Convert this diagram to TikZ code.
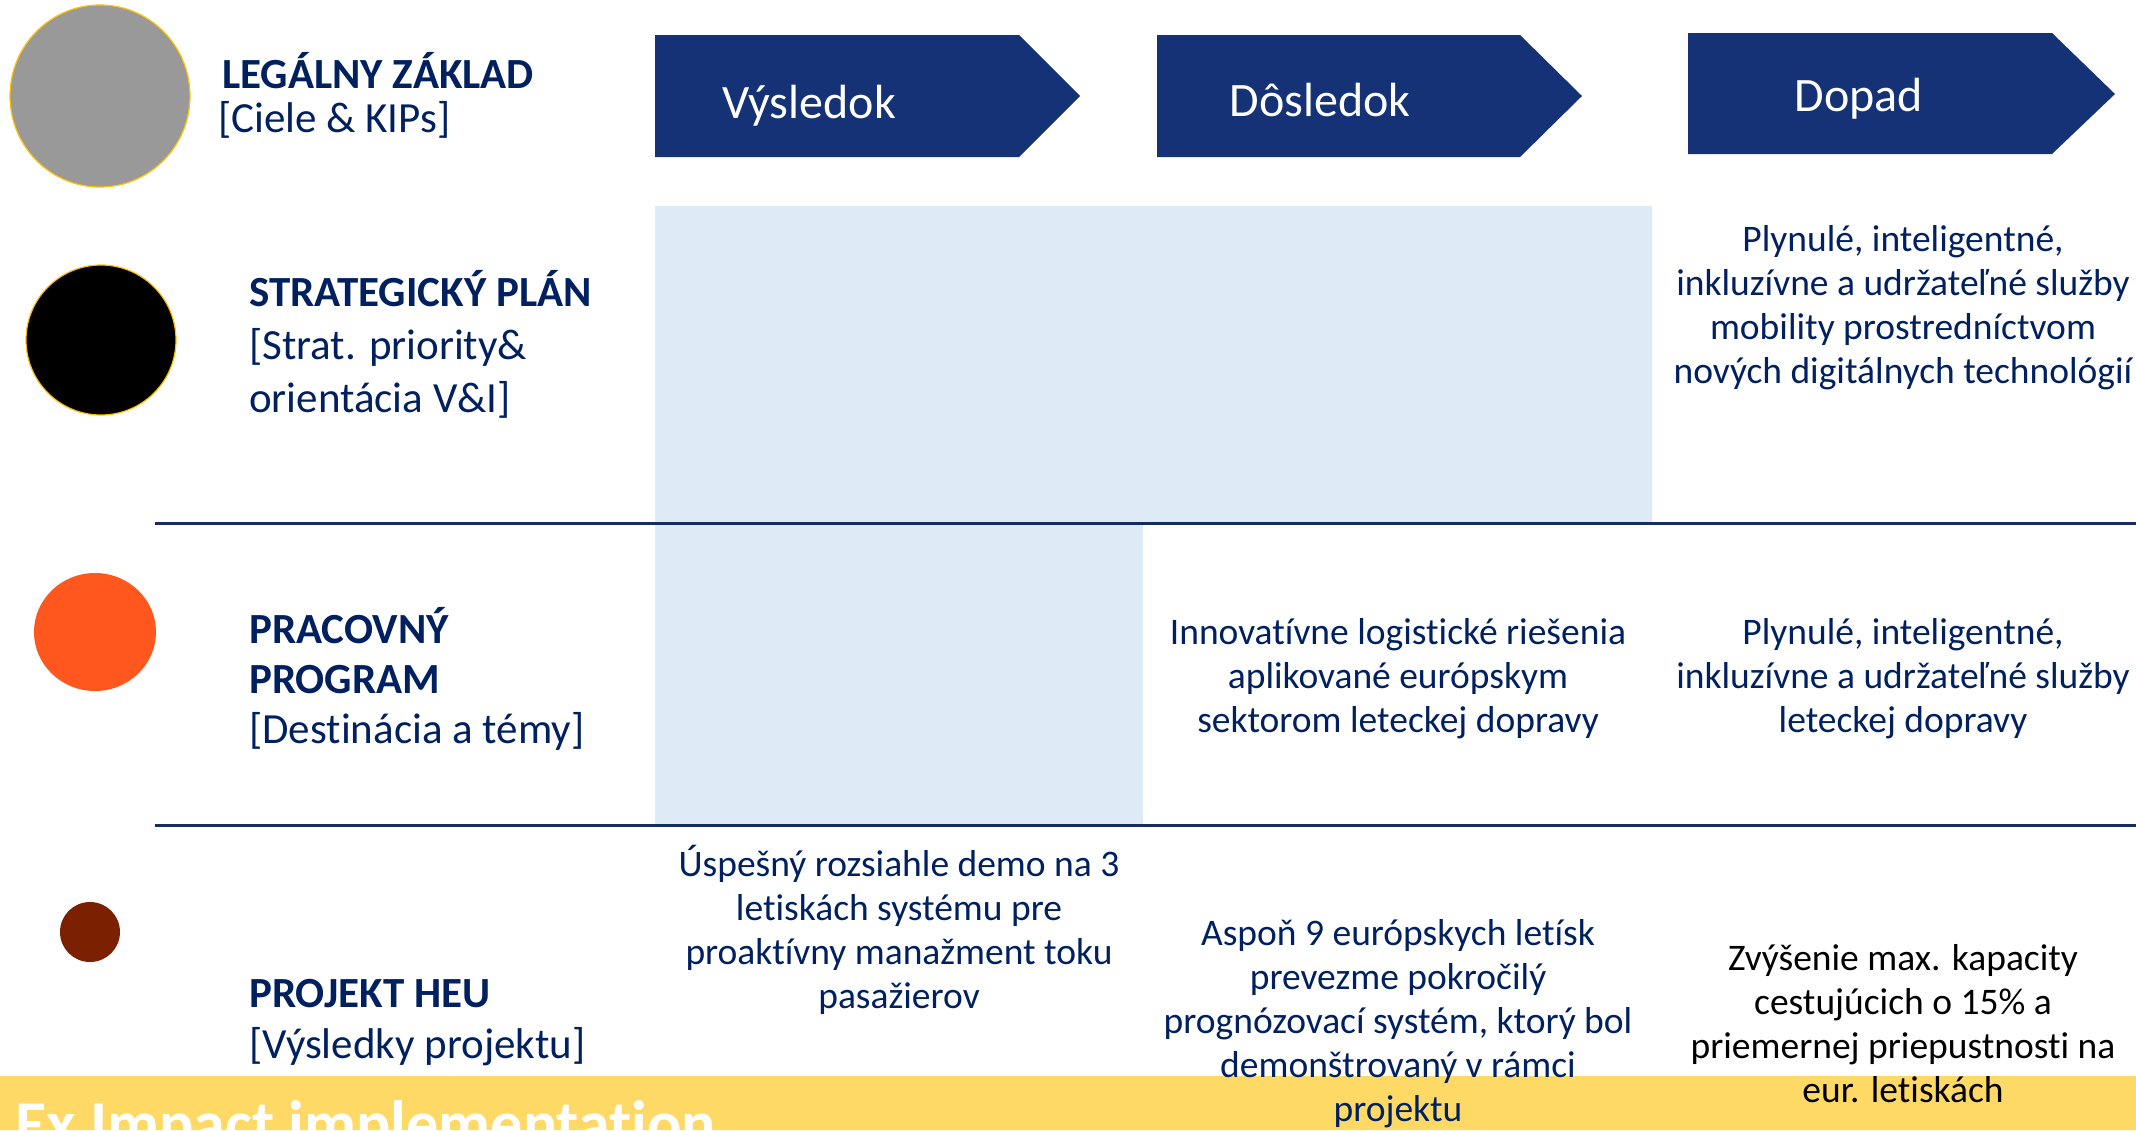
\documentclass[tikz,border=0pt]{standalone}
\usepackage{fontspec}
\setmainfont{Carlito}[Ligatures=NoCommon]
\definecolor{navy}{RGB}{0,32,96}
\definecolor{chev}{RGB}{20,50,117}
\definecolor{lblue}{RGB}{222,234,246}
\definecolor{band}{RGB}{255,217,102}
\definecolor{ring}{RGB}{255,192,0}
\definecolor{orng}{RGB}{255,87,30}
\definecolor{brwn}{RGB}{123,32,0}
\definecolor{linec}{RGB}{24,44,100}
\definecolor{gry}{RGB}{153,153,153}
\tikzset{
  chevron/.style={fill=chev, draw=none},
  chevtext/.style={text=white, inner sep=0pt, font=\fontsize{48}{56}\selectfont},
  rowlabel/.style={text=navy, inner sep=0pt, anchor=west, align=left, font=\fontsize{43}{53}\selectfont},
  celltext/.style={text=navy, inner sep=0pt, align=center, font=\fontsize{37.5}{44}\selectfont},
  rowline/.style={draw=linec, line width=3pt},
  dot/.style={draw=ring, line width=1.2pt}
}
\begin{document}
\begin{tikzpicture}[x=1pt,y=-1pt]
\useasboundingbox (0,0) rectangle (2136,1130);
\clip (0,0) rectangle (2136,1130);
% light blue areas
\fill[lblue] (655,206) rectangle (1652,523);
\fill[lblue] (655,523) rectangle (1143,825);
% row lines
\coordinate (l1a) at (155,523); \coordinate (l1b) at (2136,523);
\coordinate (l2a) at (155,825); \coordinate (l2b) at (2136,825);
\draw[rowline] (l1a) -- (l1b);
\draw[rowline] (l2a) -- (l2b);
% chevrons
\fill[chevron] (655,35) -- (1019,35) -- (1080,96) -- (1019,157) -- (655,157) -- cycle;
\fill[chevron] (1157,35) -- (1520,35) -- (1582,96) -- (1520,157) -- (1157,157) -- cycle;
\fill[chevron] (1688,33) -- (2052,33) -- (2115,94) -- (2052,154) -- (1688,154) -- cycle;
\node[chevtext] (c1) at (809,106) {Výsledok};
\node[chevtext] (c2) at (1320,100) {Dôsledok};
\node[chevtext] (c3) at (1859,99) {Dopad};
% circles
\draw[dot, fill=gry] (100,96) ellipse [x radius=90, y radius=91];
\draw[dot, fill=black] (101,340) ellipse [x radius=75, y radius=75];
\fill[orng] (95,632) ellipse [x radius=61, y radius=59];
\fill[brwn] (90,932) ellipse [x radius=30, y radius=30];
% row labels
\node[rowlabel] (lg1) at (222,71) {\bfseries LEGÁLNY ZÁKLAD};
\node[rowlabel] (lg2) at (218,120) {[Ciele \& KIPs]};
\node[rowlabel] (sp) at (249,344) {\bfseries STRATEGICKÝ PLÁN\\\relax [Strat. priority\&\\orientácia V\&I]};
\node[rowlabel, font=\fontsize{43}{50}\selectfont] (pp) at (249,679) {\bfseries PRACOVNÝ\\\bfseries PROGRAM\\\relax [Destinácia a témy]};
\node[rowlabel, font=\fontsize{43}{51}\selectfont] (ph) at (249,1023) {\bfseries PROJEKT HEU\\\relax [Výsledky projektu]};
% yellow band
\fill[band] (0,1076) rectangle (2136,1130);
\node[anchor=base west, inner sep=0pt, text=white, font=\fontsize{64}{70}\selectfont\bfseries] (ex) at (15,1145) {Ex Impact implementation};
% cells
\node[celltext] (s3) at (1903,308) {Plynulé, inteligentné,\\inkluzívne a udržateľné služby\\mobility prostredníctvom\\nových digitálnych technológií};
\node[celltext] (p2) at (1398,679) {Innovatívne logistické riešenia\\aplikované európskym\\sektorom leteckej dopravy};
\node[celltext] (p3) at (1903,679) {Plynulé, inteligentné,\\inkluzívne a udržateľné služby\\leteckej dopravy};
\node[celltext] (h1) at (899,930) {Úspešný rozsiahle demo na 3\\letiskách systému pre\\proaktívny manažment toku\\pasažierov};
\node[celltext] (h2) at (1398,1024) {Aspoň 9 európskych letísk\\prevezme pokročilý\\prognózovací systém, ktorý bol\\demonštrovaný v rámci\\projektu};
\node[celltext, text=black] (h3) at (1903,1024) {Zvýšenie max. kapacity\\cestujúcich o 15\% a\\priemernej priepustnosti na\\eur. letiskách};
\end{tikzpicture}
\end{document}
